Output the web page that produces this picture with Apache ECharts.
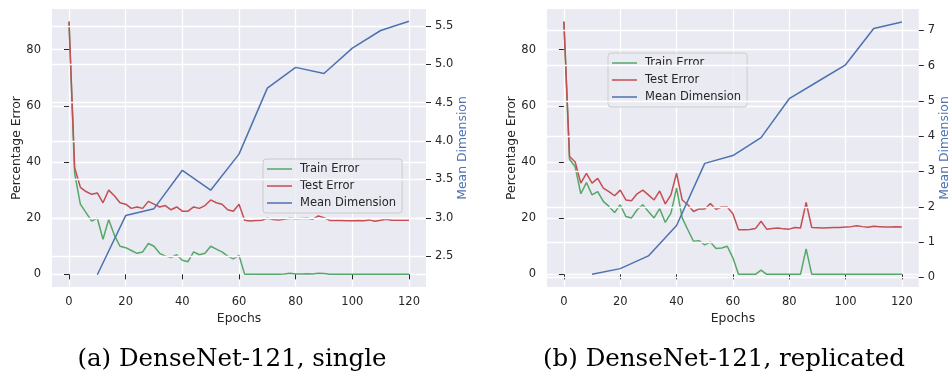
<!DOCTYPE html>
<html>
<head>
<meta charset="utf-8">
<script src="https://cdn.jsdelivr.net/npm/echarts@6/dist/echarts.min.js"></script>
<style>
html,body{margin:0;padding:0;background:#fff;}
#c{width:952px;height:376px;}
</style>
</head>
<body>
<div id="c"></div>
<script>
// ---------------- data ----------------
const epochsErr = [0,2,4,6,8,10,12,14,16,18,20,22,24,26,28,30,32,34,36,38,40,42,44,46,48,50,52,54,56,58,60,
  62,64,66,68,70,72,74,76,78,80,82,84,86,88,90,92,94,96,98,100,102,104,106,108,110,112,114,116,118,120];
const dimEpochs = [10,20,30,40,50,60,70,80,90,100,110,120];

// (a) DenseNet-121, single
const singleTrain = [90,36,25,22,19,20,12.5,19.5,14,10,9.5,8.5,7.5,8,11,10,7.5,6.5,6,7,5,4.5,8,7,7.5,10,9,8,6.5,5.5,6.8,
  0,0,0,0,0,0,0,0.1,0.4,0.1,0.1,0.2,0.1,0.4,0.3,0,0,0,0,0,0,0,0,0,0,0,0,0,0,0];
const singleTest = [90,38,31,29.5,28.5,29,25.5,30,28,25.5,25,23.5,24,23.5,26,25,24,24.5,23,24,22.5,22.5,24,23.5,24.5,26.5,25.5,25,23,22.5,25,
  19.3,19.0,19.2,19.3,20.0,19.5,19.4,19.6,20.0,19.8,19.9,20.0,19.6,20.8,20.2,19.2,19.2,19.2,19.1,19.1,19.2,19.1,19.4,18.9,19.3,19.6,19.3,19.3,19.3,19.3];
const singleDim = [2.26,3.03,3.12,3.62,3.36,3.83,4.69,4.96,4.88,5.21,5.44,5.56];

// (b) DenseNet-121, replicated
const replTrain = [90,41,38.3,28.7,32.7,28.3,29.5,26,24.2,22,24.8,20.6,20.1,23,24.8,22.4,20.1,23.4,18.5,21.8,30.7,20.1,15.9,11.8,12,10.5,11.5,9.2,9.4,10,5.9,
  0,0,0,0,1.5,0,0,0,0,0,0,0,9.1,0,0,0,0,0,0,0,0,0,0,0,0,0,0,0,0,0];
const replTest = [90,42,40,32.5,36,32.5,34.2,30.7,29.5,28,30,26.5,26.2,28.7,30,28.3,26.5,29.7,25.1,28.3,36,26.5,24.8,22.4,23.3,23.3,25.2,23.2,24,24,21.6,
  15.9,15.9,16,16.3,18.9,16.1,16.3,16.5,16.2,16.1,16.7,16.5,25.6,16.7,16.6,16.5,16.6,16.7,16.7,16.9,17.0,17.3,17.0,16.8,17.1,17.0,16.9,16.9,17.0,16.9];
const replDim = [0.09,0.25,0.61,1.47,3.23,3.45,3.96,5.06,5.54,6.02,7.05,7.23];

// tick labels
const xTicks = [0,20,40,60,80,100,120];
const errTicks = [0,20,40,60,80];
const singleDimTicks = [2.5,3.0,3.5,4.0,4.5,5.0,5.5];
const replDimTicks = [0,1,2,3,4,5,6,7];

const seriesNames = ['Train Error','Test Error','Mean Dimension'];
const captions = ['(a) DenseNet-121, single','(b) DenseNet-121, replicated'];

// ---------------- style ----------------
const C_TRAIN = '#55A868', C_TEST = '#C44E52', C_DIM = '#4C72B0';
const TXT = '#262626';
const FONT = 'DejaVu Sans';
const FS = 11.5;
const FS_NAME = 12.4;

const zip = (xs, ys) => xs.map((x, i) => [x, ys[i]]);

function xAxisCfg(grid) {
  return {
    type: 'value', gridIndex: grid, min: -6, max: 126,
    name: 'Epochs', nameLocation: 'middle', nameGap: 24,
    nameTextStyle: {color: TXT, fontSize: FS_NAME, fontFamily: FONT},
    axisLine: {show: false},
    axisTick: {show: true, length: 5, lineStyle: {color: TXT, width: 1}, customValues: xTicks},
    axisLabel: {color: TXT, fontSize: FS, fontFamily: FONT, margin: 9, customValues: xTicks},
    splitLine: {show: true, lineStyle: {color: '#ffffff', width: 1.3}}
  };
}
function yErrCfg(grid) {
  return {
    type: 'value', gridIndex: grid, min: -4.5, max: 94.5, position: 'left',
    name: 'Percentage Error', nameLocation: 'middle', nameGap: 29, nameRotate: 90,
    nameTextStyle: {color: TXT, fontSize: FS_NAME, fontFamily: FONT},
    axisLine: {show: false},
    axisTick: {show: true, length: 5, lineStyle: {color: TXT, width: 1}, customValues: errTicks},
    axisLabel: {color: TXT, fontSize: FS, fontFamily: FONT, margin: 11, customValues: errTicks},
    splitLine: {show: true, lineStyle: {color: '#ffffff', width: 1.3}}
  };
}
function yDimCfg(grid, min, max, ticks, gap, fmt) {
  return {
    type: 'value', gridIndex: grid, min: min, max: max, position: 'right', z: 5,
    name: 'Mean Dimension', nameLocation: 'middle', nameGap: gap, nameRotate: 90,
    nameTextStyle: {color: C_DIM, fontSize: FS_NAME, fontFamily: FONT},
    axisLine: {show: false},
    axisTick: {show: true, length: 5, lineStyle: {color: TXT, width: 1}, customValues: ticks},
    axisLabel: {color: TXT, fontSize: FS, fontFamily: FONT, margin: 9, customValues: ticks, formatter: fmt},
    splitLine: {show: true, lineStyle: {color: '#ffffff', width: 1.3}}
  };
}
function lineSeries(name, xi, yi, data, color, z) {
  return {
    name: name, type: 'line', xAxisIndex: xi, yAxisIndex: yi, data: data,
    symbol: 'none', showSymbol: false, animation: false, z: z,
    lineStyle: {color: color, width: 1.5}, itemStyle: {color: color}
  };
}
function legendCfg(left, top) {
  return {
    left: left, top: top, orient: 'vertical', data: seriesNames,
    icon: 'rect', itemWidth: 25, itemHeight: 1.5, itemGap: 4,
    padding: [3.5, 6, 3.5, 4],
    backgroundColor: 'rgba(234,234,242,0.8)', borderColor: '#cccccc', borderWidth: 1, borderRadius: 3,
    textStyle: {color: TXT, fontSize: FS, fontFamily: FONT, lineHeight: 13, padding: [0, 0, 0, 3]},
    selectedMode: false
  };
}

const chart = echarts.init(document.getElementById('c'), null, {renderer: 'canvas'});
chart.setOption({
  animation: false,
  backgroundColor: '#ffffff',
  grid: [
    {left: 52, top: 9, width: 374, height: 278, show: true, backgroundColor: '#EAEAF2', borderWidth: 0},
    {left: 547, top: 9, width: 373, height: 278, show: true, backgroundColor: '#EAEAF2', borderWidth: 0}
  ],
  xAxis: [xAxisCfg(0), xAxisCfg(1)],
  yAxis: [
    yErrCfg(0),
    yDimCfg(0, 2.1, 5.72, singleDimTicks, 30.5, v => v.toFixed(1)),
    yErrCfg(1),
    yDimCfg(1, -0.27, 7.6, replDimTicks, 20, v => String(v))
  ],
  legend: [legendCfg(263, 159), legendCfg(608, 53)],
  series: [
    lineSeries(seriesNames[0], 0, 0, zip(epochsErr, singleTrain), C_TRAIN, 2),
    lineSeries(seriesNames[1], 0, 0, zip(epochsErr, singleTest), C_TEST, 2),
    lineSeries(seriesNames[2], 0, 1, zip(dimEpochs, singleDim), C_DIM, 6),
    lineSeries(seriesNames[0], 1, 2, zip(epochsErr, replTrain), C_TRAIN, 2),
    lineSeries(seriesNames[1], 1, 2, zip(epochsErr, replTest), C_TEST, 2),
    lineSeries(seriesNames[2], 1, 3, zip(dimEpochs, replDim), C_DIM, 6)
  ],
  graphic: [
    {type: 'text', x: 232, y: 360, style: {text: captions[0], fill: '#000', font: '24.5px "DejaVu Serif"', textAlign: 'center', textVerticalAlign: 'middle'}},
    {type: 'text', x: 724, y: 360, style: {text: captions[1], fill: '#000', font: '24.5px "DejaVu Serif"', textAlign: 'center', textVerticalAlign: 'middle'}}
  ]
});
</script>
</body>
</html>
